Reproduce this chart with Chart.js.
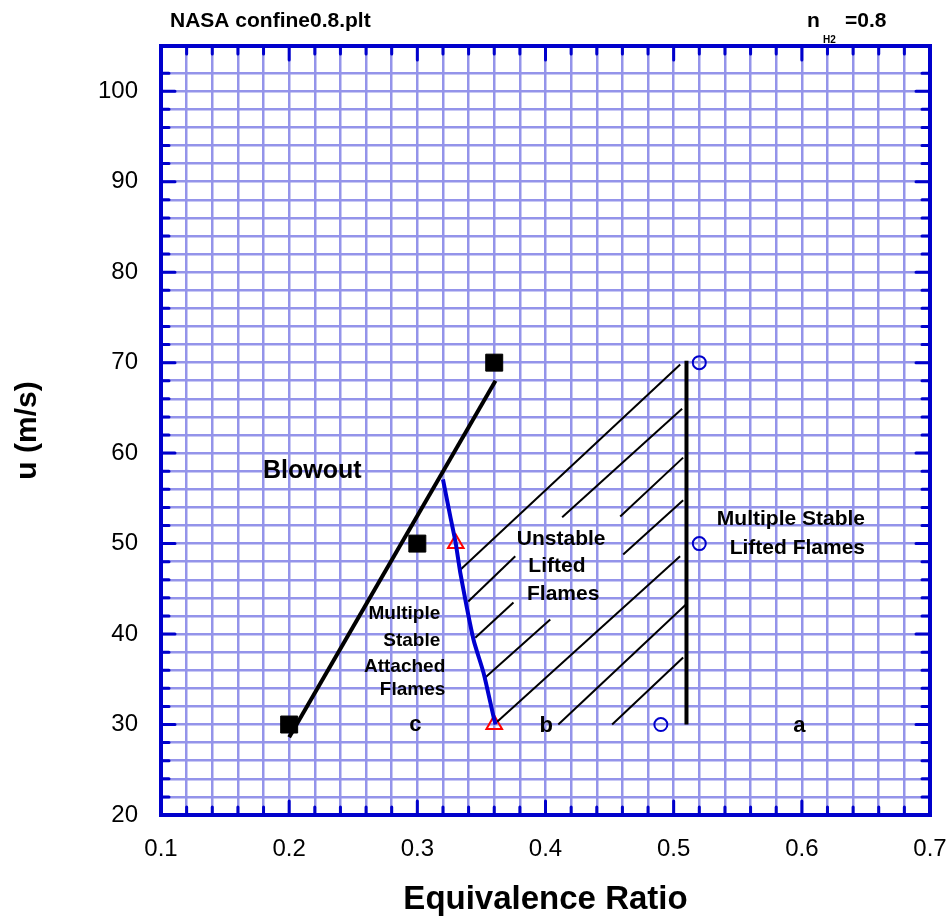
<!DOCTYPE html>
<html>
<head>
<meta charset="utf-8">
<title>Flame stability map</title>
<script src="https://cdn.jsdelivr.net/npm/chart.js@4.4.1/dist/chart.umd.min.js"></script>
<style>
  body { margin: 0; background: #fff; }
  #plot { display: block; }
</style>
</head>
<body>
<canvas id="plot" width="948" height="920"></canvas>
<script>
'use strict';

// axes
var phiRange = [0.1, 0.7];
var uRange = [20, 105];
var phiLabels = [0.1, 0.2, 0.3, 0.4, 0.5, 0.6, 0.7];
var uLabels = [20, 30, 40, 50, 60, 70, 80, 90, 100];

// blowout points and the fitted blowout limit
var blowoutPhi = [0.2, 0.3, 0.36];
var blowoutU = [30, 50, 70];
var blowoutFitPhi = [0.2, 0.361];
var blowoutFitU = [28.6, 68];

// attached -> lifted transition
var attachPhi = [0.33, 0.36];
var attachU = [50, 30];
var transitionPhi = [0.320, 0.3257, 0.330, 0.3335, 0.3438, 0.3517, 0.3594, 0.361];
var transitionU = [57.1, 53.0, 50.0, 46.8, 39.4, 35.7, 30.9, 30.0];

// stable lifted points and the edge of the unstable region
var liftedPhi = [0.49, 0.52, 0.52];
var liftedU = [30, 70, 50];
var edgePhi = [0.51, 0.51];
var edgeU = [70.2, 30];

// hatching of the unstable lifted region: [phi0, u0, phi1, u1]
var hatchSegs = [
    [0.3327, 47.0, 0.5051, 69.8],
    [0.3397, 43.6, 0.3764, 48.6],
    [0.4130, 52.9, 0.5066, 64.9],
    [0.3452, 39.6, 0.3750, 43.5],
    [0.4583, 53.0, 0.5074, 59.5],
    [0.3530, 35.2, 0.4037, 41.6],
    [0.4606, 48.8, 0.5074, 54.8],
    [0.3623, 30.3, 0.5050, 48.6],
    [0.4100, 30.0, 0.5098, 43.3],
    [0.4520, 30.0, 0.5074, 37.4]
];

var FONT = "'Liberation Sans', Arial, Helvetica, sans-serif";
var AXIS_BLUE = '#0000cc';
var GRID_BLUE = '#9494ea';

function pts(xs, ys) {
    return xs.map(function (x, i) { return {x: x, y: ys[i]}; });
}

function isLabel(list, v) {
    return list.some(function (l) { return Math.abs(l - v) < 1e-6; });
}

// keep the plot box at a fixed place, whatever the edge labels need
function fixBox(size) {
    return function (s) {
        if (s.isHorizontal()) s.height = size; else s.width = size;
        s.paddingLeft = s.paddingRight = s.paddingTop = s.paddingBottom = 0;
    };
}

// region labels, placed in data units
var notes = [
    {text: 'Blowout', x: 0.218, y: 58.0, size: 25, align: 'center'},
    {text: 'Unstable', x: 0.4122, y: 50.45, size: 21, align: 'center'},
    {text: 'Lifted', x: 0.4089, y: 47.46, size: 21, align: 'center'},
    {text: 'Flames', x: 0.4138, y: 44.36, size: 21, align: 'center'},
    {text: 'Multiple', x: 0.3179, y: 42.26, size: 19, align: 'right'},
    {text: 'Stable', x: 0.3179, y: 39.30, size: 19, align: 'right'},
    {text: 'Attached', x: 0.3218, y: 36.42, size: 19, align: 'right'},
    {text: 'Flames', x: 0.3218, y: 33.84, size: 19, align: 'right'},
    {text: 'Multiple Stable', x: 0.6493, y: 52.66, size: 21, align: 'right'},
    {text: 'Lifted Flames', x: 0.6493, y: 49.53, size: 21, align: 'right'},
    {text: 'c', x: 0.2984, y: 29.97, size: 22, align: 'center'},
    {text: 'b', x: 0.4006, y: 29.86, size: 22, align: 'center'},
    {text: 'a', x: 0.5980, y: 29.86, size: 22, align: 'center'}
];

// box round the plot with inward ticks on all four sides
var frameTicks = {
    id: 'frameTicks',
    afterDatasetsDraw: function (chart) {
        var ctx = chart.ctx;
        var a = chart.chartArea;
        var xs = chart.scales.x, ys = chart.scales.y;
        ctx.save();
        ctx.strokeStyle = AXIS_BLUE;
        ctx.lineCap = 'round';
        ctx.lineWidth = 3;
        xs.ticks.forEach(function (t) {
            var px = xs.getPixelForValue(t.value);
            var len = isLabel(phiLabels, t.value) ? 14 : 8;
            ctx.beginPath();
            ctx.moveTo(px, a.bottom); ctx.lineTo(px, a.bottom - len);
            ctx.moveTo(px, a.top); ctx.lineTo(px, a.top + len);
            ctx.stroke();
        });
        ys.ticks.forEach(function (t) {
            if (t.value >= uRange[1]) return;
            var py = ys.getPixelForValue(t.value);
            var len = isLabel(uLabels, t.value) ? 14 : 8;
            ctx.beginPath();
            ctx.moveTo(a.left, py); ctx.lineTo(a.left + len, py);
            ctx.moveTo(a.right, py); ctx.lineTo(a.right - len, py);
            ctx.stroke();
        });
        ctx.lineCap = 'butt';
        ctx.lineWidth = 4;
        ctx.strokeRect(a.left, a.top, a.right - a.left, a.bottom - a.top);
        ctx.restore();
    }
};

var regionNotes = {
    id: 'regionNotes',
    afterDatasetsDraw: function (chart) {
        var ctx = chart.ctx;
        var xs = chart.scales.x, ys = chart.scales.y;
        ctx.save();
        ctx.fillStyle = '#000';
        ctx.textBaseline = 'middle';
        notes.forEach(function (n) {
            ctx.font = 'bold ' + n.size + 'px ' + FONT;
            ctx.textAlign = n.align;
            ctx.fillText(n.text, xs.getPixelForValue(n.x), ys.getPixelForValue(n.y));
        });

        // file name and hydrogen fraction above the plot
        ctx.textBaseline = 'alphabetic';
        ctx.textAlign = 'left';
        ctx.font = 'bold 21px ' + FONT;
        ctx.fillText('NASA confine0.8.plt', 170, 27);
        ctx.fillText('n', 807, 27);
        ctx.fillText('=0.8', 845, 27);
        ctx.font = 'bold 10px ' + FONT;
        ctx.fillText('H2', 823, 43);
        ctx.restore();
    }
};

var datasets = [
    {
        data: pts(blowoutFitPhi, blowoutFitU), showLine: true,
        borderColor: '#000', borderWidth: 4, pointRadius: 0
    },
    {
        data: pts(transitionPhi, transitionU), showLine: true,
        borderColor: '#0000d0', borderWidth: 4, pointRadius: 0, tension: 0.2
    },
    {
        data: pts(edgePhi, edgeU), showLine: true,
        borderColor: '#000', borderWidth: 4, pointRadius: 0
    }
];

hatchSegs.forEach(function (s) {
    datasets.push({
        data: [{x: s[0], y: s[1]}, {x: s[2], y: s[3]}], showLine: true,
        borderColor: '#000', borderWidth: 2, pointRadius: 0
    });
});

datasets.push(
    {
        data: pts(blowoutPhi, blowoutU), pointStyle: 'rect', pointRadius: 12,
        backgroundColor: '#000', borderColor: '#000', borderWidth: 1
    },
    {
        data: pts(attachPhi, attachU), pointStyle: 'triangle', pointRadius: 9,
        backgroundColor: 'rgba(0,0,0,0)', borderColor: '#ff0000', borderWidth: 2
    },
    {
        data: pts(liftedPhi, liftedU), pointStyle: 'circle', pointRadius: 6.5,
        backgroundColor: 'rgba(0,0,0,0)', borderColor: '#0000cc', borderWidth: 2
    }
);

Chart.defaults.font.family = FONT;
Chart.defaults.color = '#000';

new Chart(document.getElementById('plot'), {
    type: 'scatter',
    data: {datasets: datasets},
    options: {
        responsive: false,
        animation: false,
        events: [],
        layout: {padding: {top: 46, right: 18, left: 0, bottom: 0}},
        plugins: {legend: {display: false}, tooltip: {enabled: false}},
        scales: {
            x: {
                min: phiRange[0], max: phiRange[1],
                afterFit: fixBox(105),
                grid: {color: GRID_BLUE, lineWidth: 2.5, drawTicks: false},
                border: {display: false},
                ticks: {
                    stepSize: 0.02, autoSkip: false, maxRotation: 0, padding: 20,
                    font: {size: 24},
                    callback: function (v) { return isLabel(phiLabels, v) ? v.toFixed(1) : ''; }
                },
                title: {
                    display: true, text: 'Equivalence Ratio',
                    font: {size: 33, weight: 'bold'}, padding: {top: 0, bottom: 0}
                }
            },
            y: {
                min: uRange[0], max: uRange[1],
                afterFit: fixBox(161),
                grid: {color: GRID_BLUE, lineWidth: 2.5, drawTicks: false},
                border: {display: false},
                ticks: {
                    stepSize: 2, autoSkip: false, padding: 23,
                    font: {size: 24},
                    callback: function (v) { return isLabel(uLabels, v) ? String(v) : ''; }
                },
                title: {
                    display: true, text: 'u (m/s)',
                    font: {size: 30, weight: 'bold'}, padding: {top: 10, bottom: 0}
                }
            }
        }
    },
    plugins: [frameTicks, regionNotes]
});
</script>
</body>
</html>
